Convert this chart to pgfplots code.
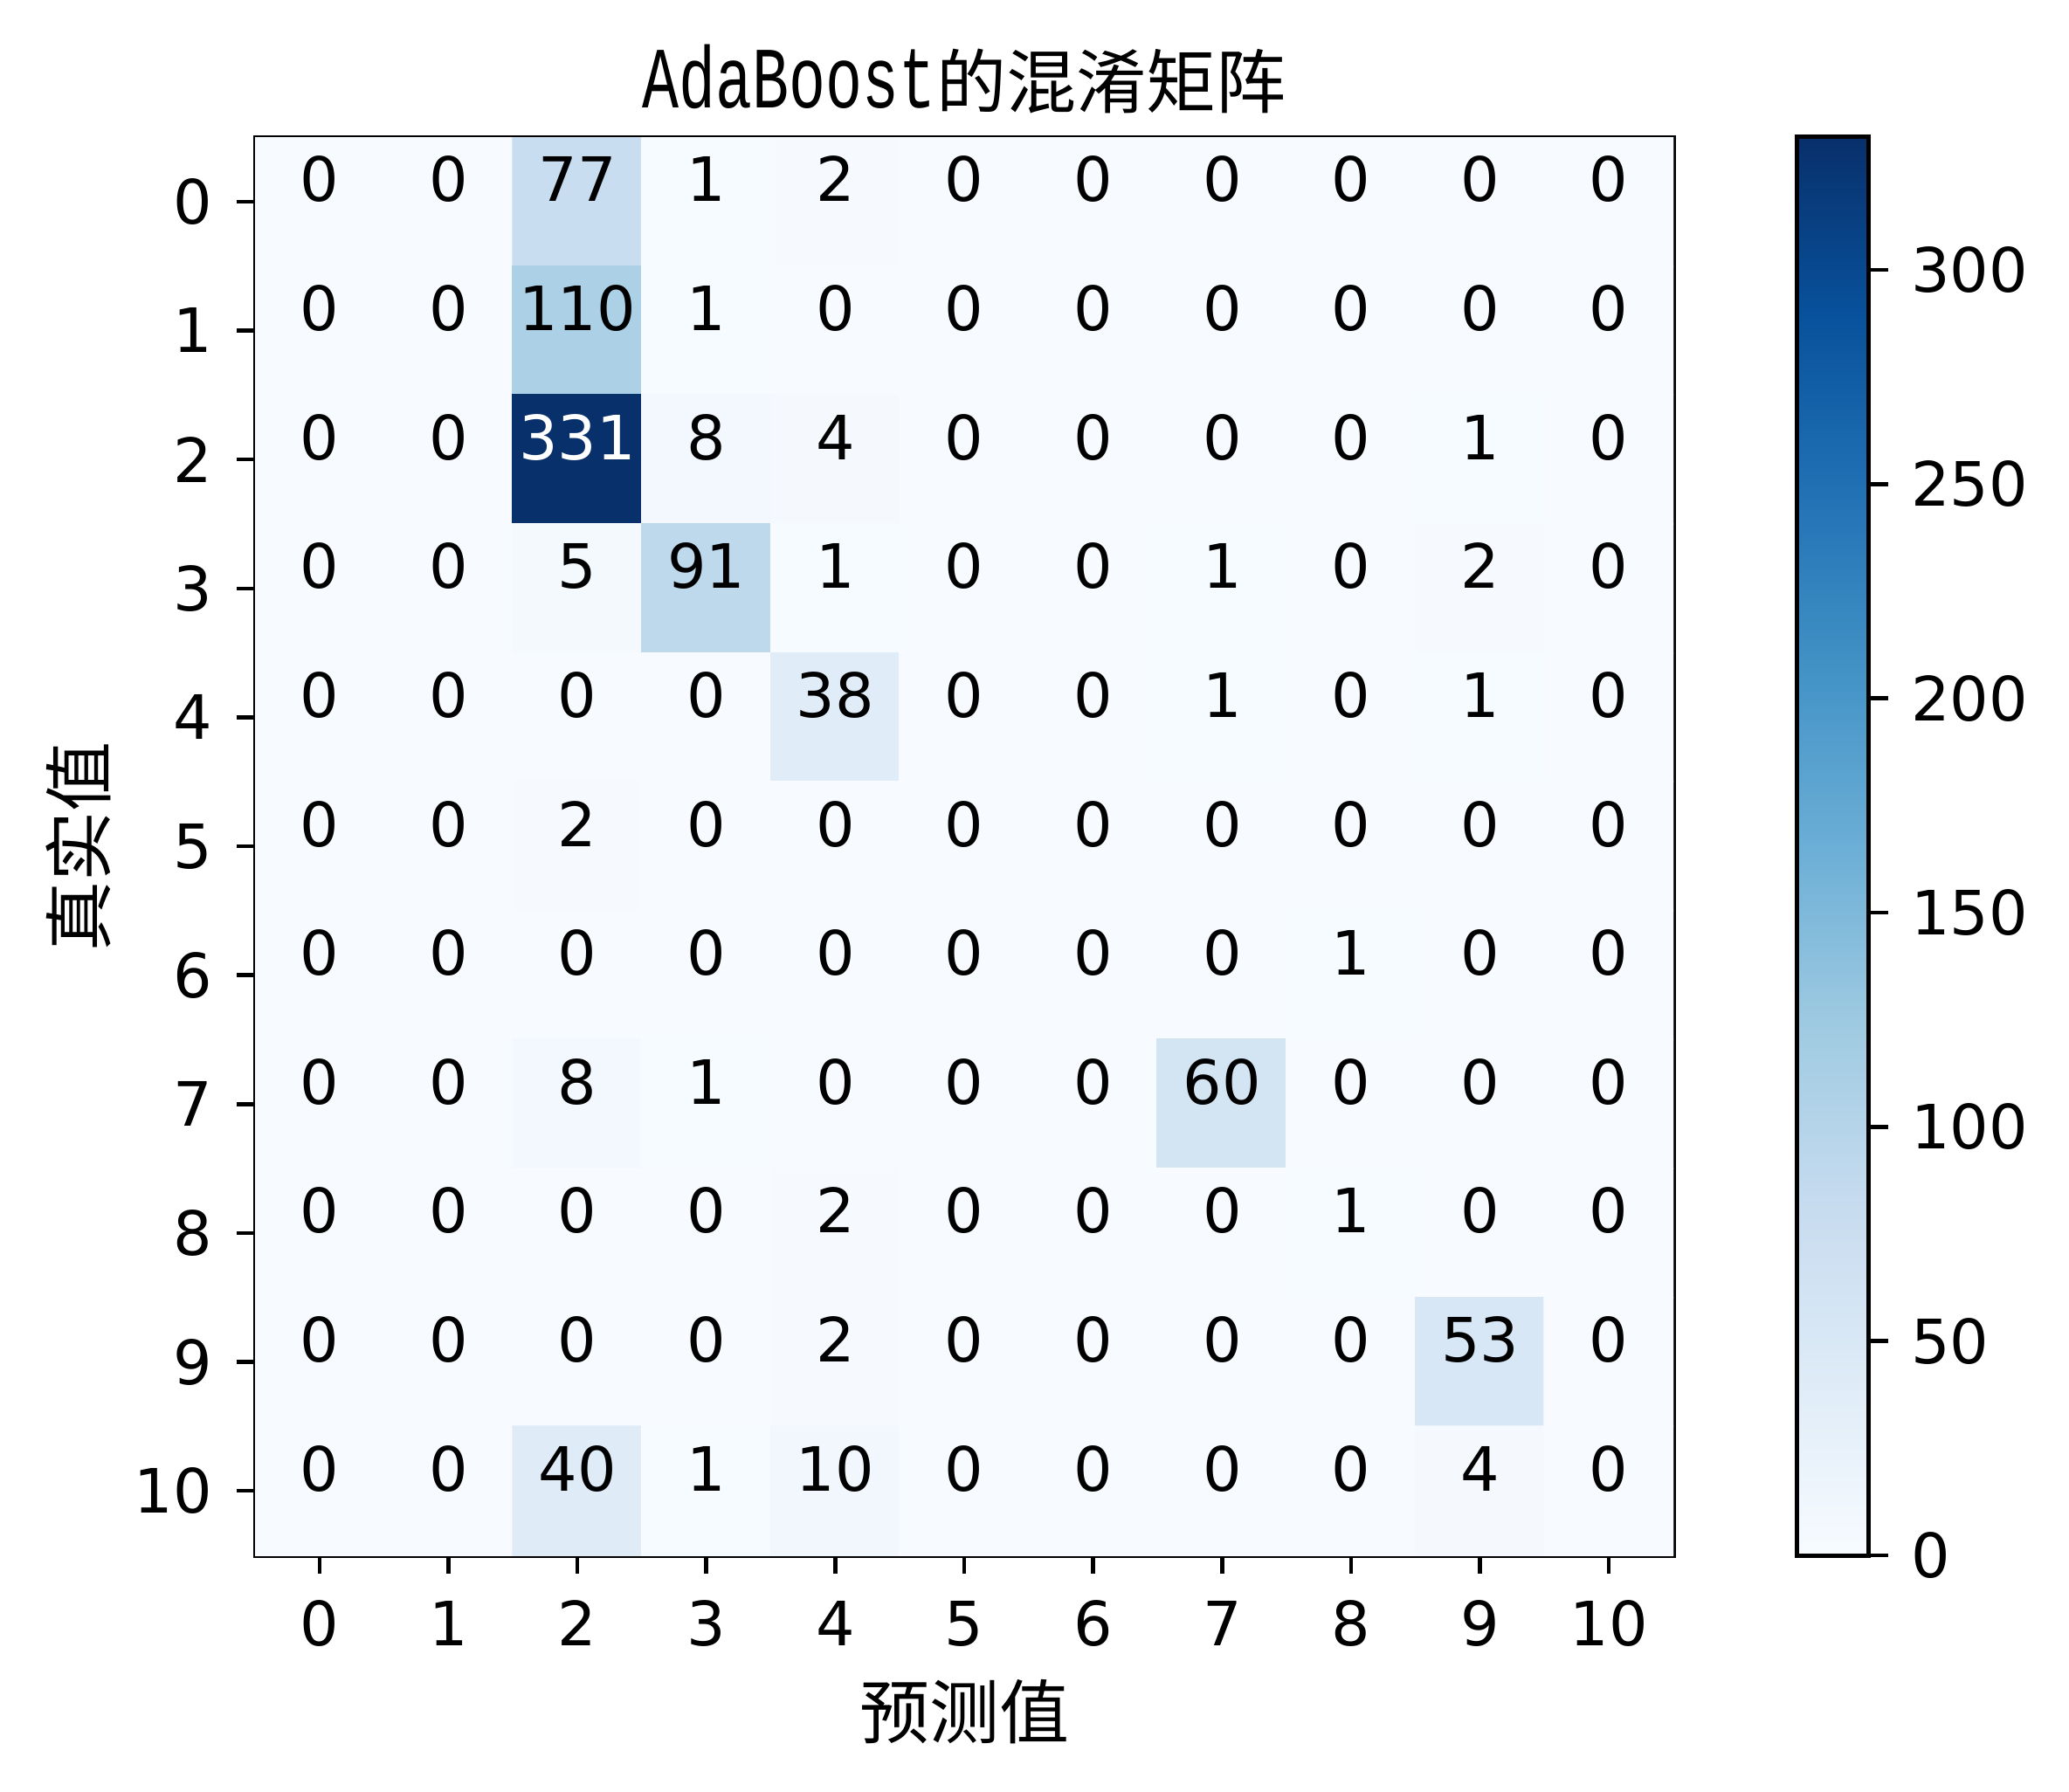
\documentclass[border=0pt]{standalone}
\usepackage{fontspec}
\setmainfont{DejaVu Sans}
\newfontfamily\cjk{Noto Sans CJK SC}
\newfontfamily\titlemono[FakeStretch=0.7]{Liberation Mono}
\usepackage{pgfplots}
\pgfplotsset{compat=1.18}
\usepackage{pgfplotstable}

\pgfplotsset{colormap={blues}{rgb255=(247,251,255) rgb255=(222,235,247) rgb255=(198,219,239) rgb255=(158,202,225) rgb255=(107,174,214) rgb255=(66,146,198) rgb255=(33,113,181) rgb255=(8,81,156) rgb255=(8,48,107)}}

\pgfplotstableread[row sep=\\]{
x y c\\
0 0 0\\ 1 0 0\\ 2 0 77\\ 3 0 1\\ 4 0 2\\ 5 0 0\\ 6 0 0\\ 7 0 0\\ 8 0 0\\ 9 0 0\\ 10 0 0\\
0 1 0\\ 1 1 0\\ 2 1 110\\ 3 1 1\\ 4 1 0\\ 5 1 0\\ 6 1 0\\ 7 1 0\\ 8 1 0\\ 9 1 0\\ 10 1 0\\
0 2 0\\ 1 2 0\\ 2 2 331\\ 3 2 8\\ 4 2 4\\ 5 2 0\\ 6 2 0\\ 7 2 0\\ 8 2 0\\ 9 2 1\\ 10 2 0\\
0 3 0\\ 1 3 0\\ 2 3 5\\ 3 3 91\\ 4 3 1\\ 5 3 0\\ 6 3 0\\ 7 3 1\\ 8 3 0\\ 9 3 2\\ 10 3 0\\
0 4 0\\ 1 4 0\\ 2 4 0\\ 3 4 0\\ 4 4 38\\ 5 4 0\\ 6 4 0\\ 7 4 1\\ 8 4 0\\ 9 4 1\\ 10 4 0\\
0 5 0\\ 1 5 0\\ 2 5 2\\ 3 5 0\\ 4 5 0\\ 5 5 0\\ 6 5 0\\ 7 5 0\\ 8 5 0\\ 9 5 0\\ 10 5 0\\
0 6 0\\ 1 6 0\\ 2 6 0\\ 3 6 0\\ 4 6 0\\ 5 6 0\\ 6 6 0\\ 7 6 0\\ 8 6 1\\ 9 6 0\\ 10 6 0\\
0 7 0\\ 1 7 0\\ 2 7 8\\ 3 7 1\\ 4 7 0\\ 5 7 0\\ 6 7 0\\ 7 7 60\\ 8 7 0\\ 9 7 0\\ 10 7 0\\
0 8 0\\ 1 8 0\\ 2 8 0\\ 3 8 0\\ 4 8 2\\ 5 8 0\\ 6 8 0\\ 7 8 0\\ 8 8 1\\ 9 8 0\\ 10 8 0\\
0 9 0\\ 1 9 0\\ 2 9 0\\ 3 9 0\\ 4 9 2\\ 5 9 0\\ 6 9 0\\ 7 9 0\\ 8 9 0\\ 9 9 53\\ 10 9 0\\
0 10 0\\ 1 10 0\\ 2 10 40\\ 3 10 1\\ 4 10 10\\ 5 10 0\\ 6 10 0\\ 7 10 0\\ 8 10 0\\ 9 10 4\\ 10 10 0\\
}\cm

\begin{document}
\begin{tikzpicture}
\path[use as bounding box] (0,0) rectangle (473.8pt,410.2pt);
\begin{axis}[
  name=ax,
  at={(58.4pt,54pt)}, anchor=south west,
  scale only axis, width=324.8pt, height=324.8pt,
  xmin=-0.5, xmax=10.5, ymin=-0.5, ymax=10.5,
  y dir=reverse,
  xtick={0,...,10}, ytick={0,...,10},
  xtick pos=bottom, ytick pos=left,
  tick align=outside,
  major tick length=4.2pt,
  tick style={black, line width=0.9pt},
  axis line style={line width=1pt},
  tick label style={font=\fontsize{14}{16}\selectfont, inner sep=0pt},
  /pgf/number format/assume math mode=true,
  xticklabel style={anchor=north, yshift=-6pt},
  yticklabel style={anchor=east, xshift=-5.4pt},
  point meta min=0, point meta max=331,
  title={{\titlemono\fontsize{20}{20}\selectfont AdaBoost}{\cjk\fontsize{16}{18}\selectfont 的混淆矩阵}},
  title style={at={(0.5,1.024)}, anchor=base, inner sep=0pt, yshift=-7pt},
  xlabel={\cjk 预测值},
  xlabel style={font=\fontsize{16}{18}\selectfont, at={(0.5,-0.1105)}, anchor=center, inner sep=0pt},
  ylabel={\cjk 真实值},
  ylabel style={font=\fontsize{16}{18}\selectfont, at={(-0.1244,0.5)}, anchor=center, inner sep=0pt},
]
\addplot[matrix plot*, mesh/cols=11, point meta=explicit] table[x=x, y=y, meta=c] {\cm};
\addplot[only marks, mark=none, point meta=explicit,
  nodes near coords={\ifdim\pgfplotspointmetatransformed pt>500pt \color{white}\fi\pgfmathprintnumber{\pgfplotspointmeta}},
  every node near coord/.append style={anchor=base, inner sep=0pt, font=\fontsize{14}{16}\selectfont}]
  table[x=x, y=y, meta=c] {\cm};
\end{axis}
% colour bar
\begin{axis}[
  at={(411.4pt,54pt)}, anchor=south west,
  scale only axis, width=16.4pt, height=324.8pt,
  xmin=0, xmax=1, ymin=0, ymax=331, enlargelimits=false,
  xtick=\empty,
  ytick={0,50,...,300},
  ytick pos=right, yticklabel pos=right,
  tick align=outside,
  major tick length=4.6pt,
  tick style={black, line width=0.9pt},
  axis line style={line width=1pt},
  axis on top,
  point meta min=0, point meta max=331,
  /pgf/number format/assume math mode=true,
  yticklabel style={font=\fontsize{14}{16}\selectfont, anchor=west, inner sep=0pt, xshift=5pt},
]
\addplot[surf, shader=interp, mesh/cols=2, point meta=y]
  coordinates {(0,0) (1,0) (0,331) (1,331)};
\end{axis}
\end{tikzpicture}
\end{document}
